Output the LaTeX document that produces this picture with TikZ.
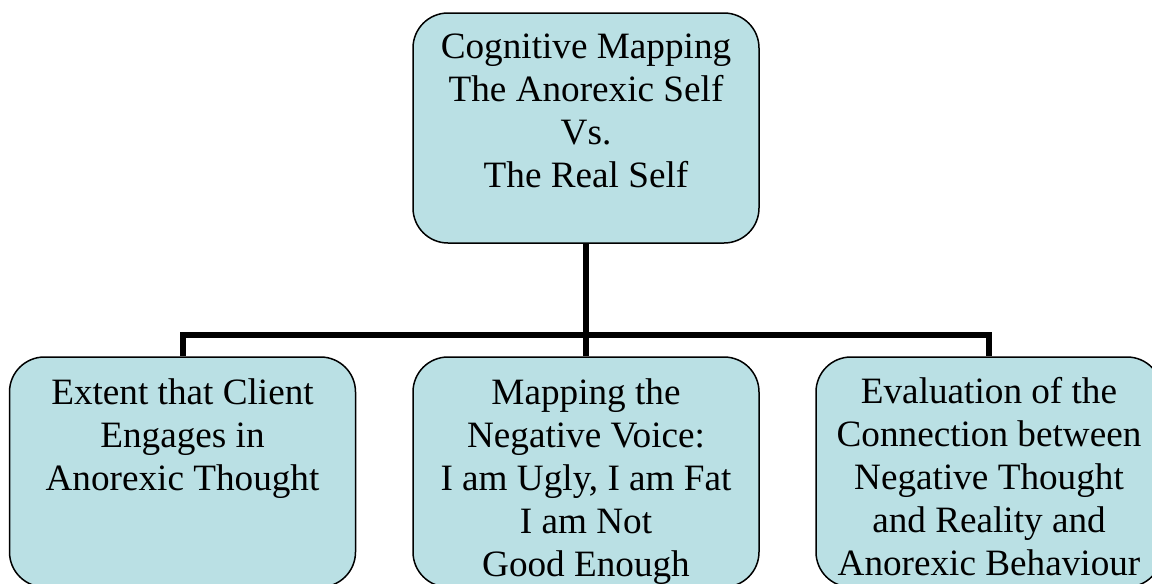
\documentclass[tikz,border=0pt]{standalone}
\usepackage{fontspec}
\setmainfont{Liberation Serif}
\definecolor{boxfill}{RGB}{186,224,228}
\begin{document}
\begin{tikzpicture}[x=1pt,y=-1pt,
  box/.style={draw=black, line width=1.5pt, fill=boxfill, rounded corners=35pt,
    minimum width=346pt, minimum height=230pt, inner sep=0pt},
  txt/.style={font=\fontsize{37.2}{43}\selectfont, align=center, anchor=north, inner sep=0pt},
  conn/.style={line width=6pt, draw=black}]
\useasboundingbox (0,0) rectangle (1152,584);
\clip (0,0) rectangle (1152,584);
\node[box] (top) at (586,128) {};
\node[box] (left) at (182.5,472) {};
\node[box] (mid) at (586,472) {};
\node[box] (right) at (989,472) {};
\draw[conn] (top.south) -- (mid.north);
\draw[conn] (top.south) -- ++(0,91) -| (left.north);
\draw[conn] (top.south) -- ++(0,91) -| (right.north);
\node[txt] (toptxt) at ([yshift=-16pt]top.north) {\rule{0pt}{30pt}Cognitive Mapping\\The Anorexic Self\\Vs.\\The Real Self};
\node[txt] (lefttxt) at ([yshift=-18pt]left.north) {\rule{0pt}{30pt}Extent that Client\\Engages in\\Anorexic Thought};
\node[txt] (midtxt) at ([yshift=-18pt]mid.north) {\rule{0pt}{30pt}Mapping the\\Negative Voice:\\I am Ugly, I am Fat\\I am Not\\Good Enough};
\node[txt] (righttxt) at ([yshift=-17pt]right.north) {\rule{0pt}{30pt}Evaluation of the\\Connection between\\Negative Thought\\and Reality and\\Anorexic Behaviour};
\end{tikzpicture}
\end{document}
